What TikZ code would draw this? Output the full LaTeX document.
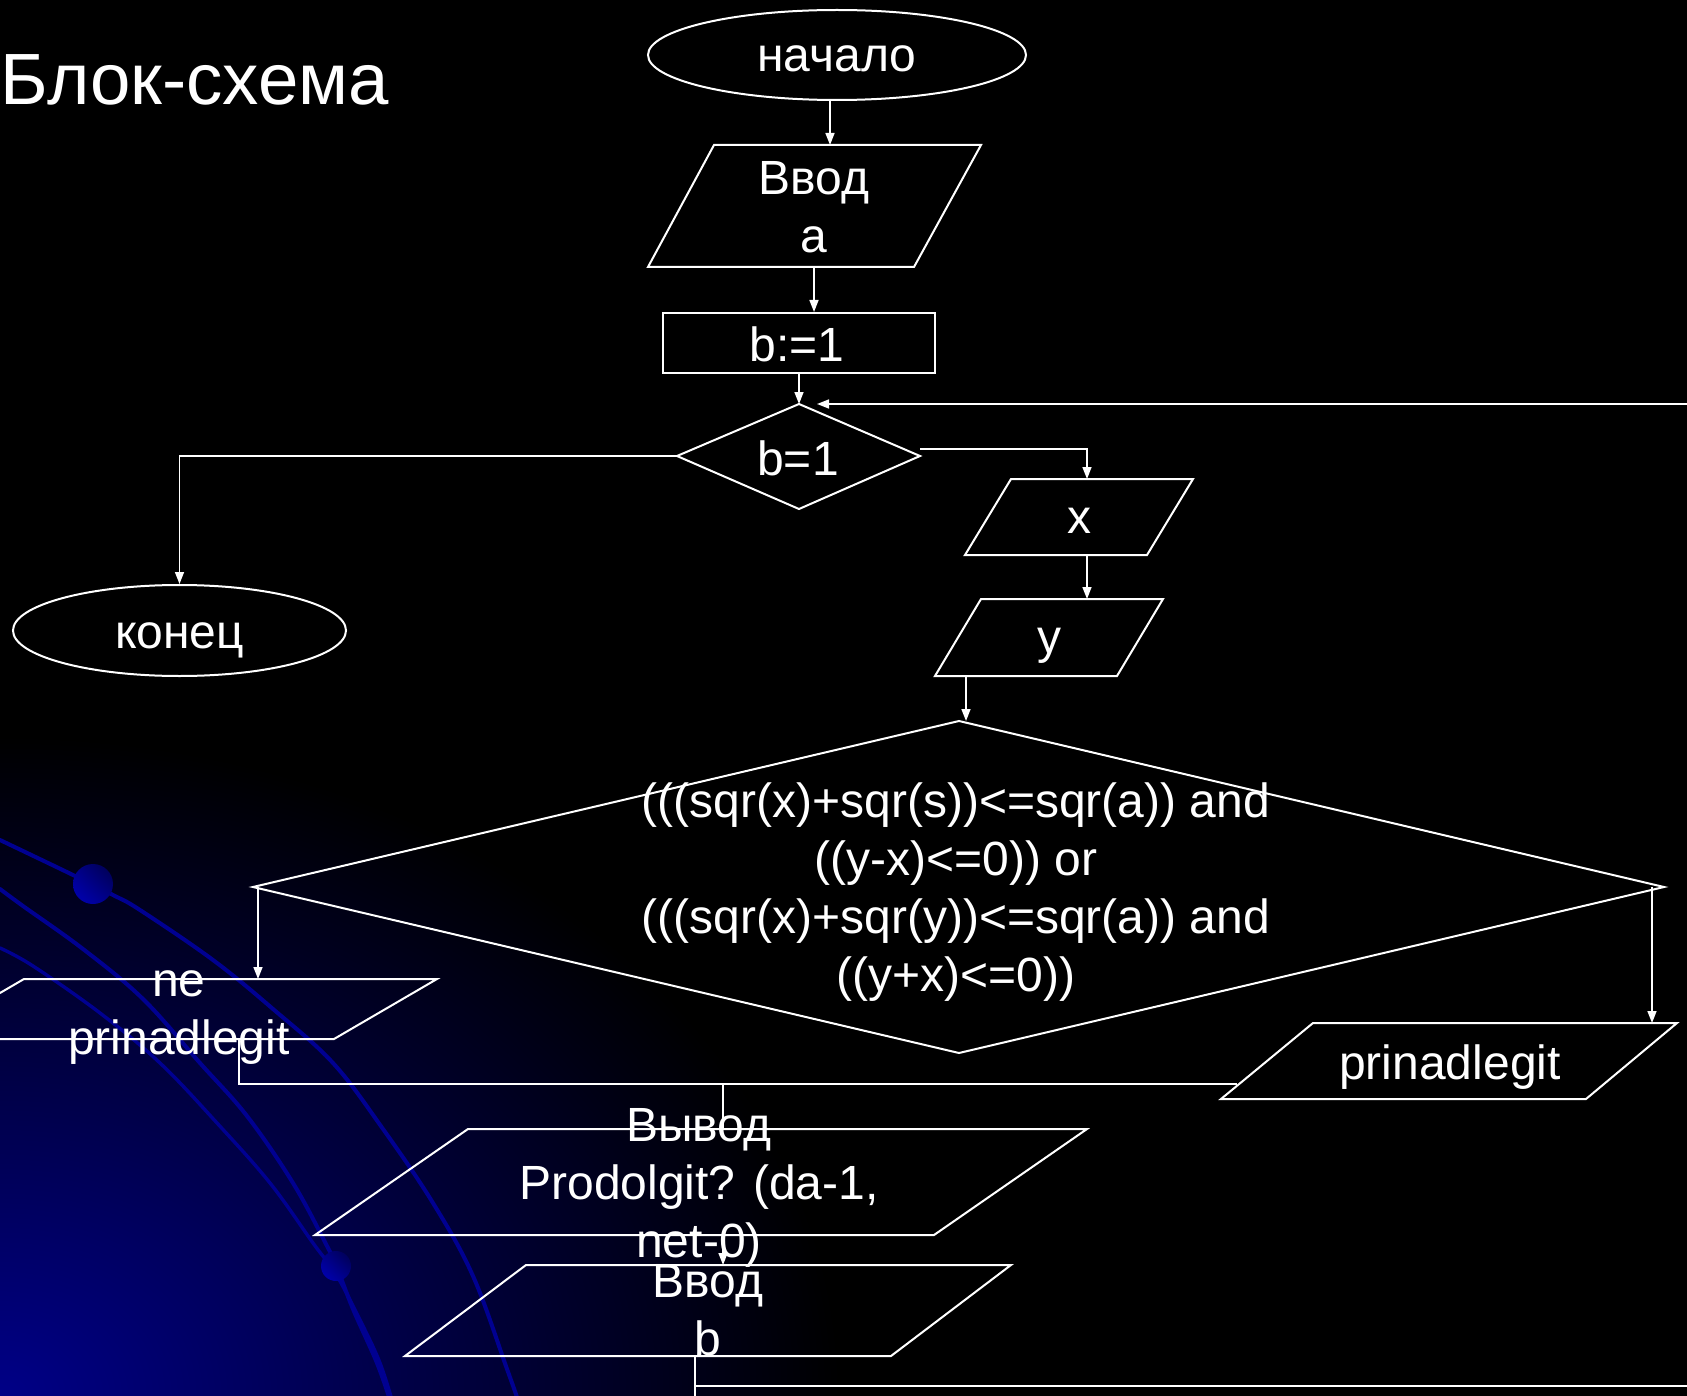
\documentclass[tikz,border=0pt]{standalone}
\usepackage{fontspec}
\setmainfont{Liberation Sans}
\usetikzlibrary{arrows.meta,shapes.geometric,calc,shadings}
\definecolor{navyline}{RGB}{0,0,145}
\definecolor{glow}{RGB}{0,0,135}
\definecolor{ballhi}{RGB}{0,0,185}
\definecolor{ballmid}{RGB}{0,0,135}
\definecolor{balllo}{RGB}{0,0,75}
\begin{document}
\begin{tikzpicture}[x=0.5pt,y=-0.5pt,
  shp/.style={draw=white, line width=1pt},
  con/.style={draw=white, line width=0.75pt},
  arr/.style={con, -{Triangle[length=6pt,width=4.5pt]}},
  txt/.style={text=white, font=\fontsize{24}{29}\selectfont, align=center, inner sep=0pt, anchor=base},
  titletxt/.style={text=white, font=\fontsize{36.3}{44}\selectfont, inner sep=0pt, anchor=base west},
  curve/.style={draw=navyline, line width=2pt, line cap=round},
  sphere/.style={upper right=balllo, lower left=ballhi, upper left=ballmid, lower right=ballmid},
]
\useasboundingbox (0,0) rectangle (1687,1396);
\begin{scope}
\clip (0,0) rectangle (1687,1396);
\fill[black] (0,0) rectangle (1687,1396);
% background glow and decorative arcs
\shade[inner color=glow, outer color=black] (0,1396) ellipse [x radius=420pt, y radius=330pt];
\draw[curve] plot[smooth, tension=0.6] coordinates {(0,840) (73,875) (113,895) (140,910) (213,960) (273,1009) (333,1063) (383,1129) (433,1203) (473,1276) (507,1369) (518,1400)};
\draw[curve] plot[smooth, tension=0.6] coordinates {(0,889) (23,906) (83,949) (143,999) (200,1063) (247,1116) (293,1183) (327,1246) (336,1265) (353,1309) (377,1363) (390,1400)};
\draw[curve, line width=1.7pt] plot[smooth, tension=0.6] coordinates {(0,948) (33,966) (100,1013) (160,1063) (217,1123) (270,1183) (313,1243) (337,1276) (363,1326) (380,1363) (392,1400)};
\shade[sphere] (93,884) circle [radius=10pt];
\shade[sphere] (336,1266) circle [radius=7.5pt];

% title
\node[titletxt] (title) at (0,105) {Блок-схема};

% shapes
\node[shp, ellipse, minimum width=189pt, minimum height=45pt, inner sep=0pt] (start) at (837,55) {};
\draw[shp] (714,145) -- (981,145) -- (914,267) -- (648,267) -- cycle;
\node[shp, rectangle, minimum width=136pt, minimum height=30pt, inner sep=0pt] (init) at (799,343) {};
\draw[shp] (799,404) coordinate (cond1-n) -- (920,456) coordinate (cond1-e) -- (799,509) -- (677,456) coordinate (cond1-w) -- cycle;
\node[shp, ellipse, minimum width=166.5pt, minimum height=45.5pt, inner sep=0pt] (end) at (179.5,630.5) {};
\draw[shp] (1011,479) -- (1193,479) -- (1147,555) -- (965,555) -- cycle;
\draw[shp] (981,599) -- (1163,599) -- (1117,676) -- (935,676) -- cycle;
\draw[shp] (959,721) coordinate (cond2-n) -- (1664,887) coordinate (cond2-e) -- (959,1053) -- (253,887) coordinate (cond2-w) -- cycle;
\draw[shp] (24,979) -- (437,979) -- (334,1039) -- (-79,1039) -- cycle;
\draw[shp] (1313,1023) -- (1677,1023) -- (1586,1099) -- (1221,1099) -- cycle;
\draw[shp] (468,1129) -- (1087,1129) -- (934,1235) -- (315,1235) -- cycle;
\draw[shp] (526,1265) -- (1011,1265) -- (891,1356) -- (405,1356) -- cycle;

% connection points
\coordinate (inp1-in) at (830,145);
\coordinate (inp1-out) at (814,267);
\coordinate (inx-in) at (1087,479);
\coordinate (inx-out) at (1087,555);
\coordinate (iny-in) at (1087,599);
\coordinate (iny-out) at (966,676);
\coordinate (no-in) at (258,979);
\coordinate (no-out) at (239,1039);
\coordinate (yes-in) at (1652,1023);
\coordinate (yes-join) at (1237,1084);
\coordinate (out-in) at (723,1129);
\coordinate (out-out) at (723,1235);
\coordinate (inb-in) at (723,1265);
\coordinate (inb-out) at (695,1356);
\coordinate (loop-a) at (695,1386);
\coordinate (loop-b) at (1720,1386);
\coordinate (loop-c) at (1720,404);
\coordinate (loop-end) at (817,404);
\coordinate (inb-down) at (695,1400);

% texts (multi-line texts anchored at the baseline of their last line)
\node[txt] (t-start) at (837,72) {начало};
\node[txt] (t-inp1) at (814,253) {Ввод\\a};
\node[txt] (t-init) at (797,361) {b:=1};
\node[txt] (t-cond1) at (798,475) {b=1};
\node[txt] (t-end) at (179.5,648) {конец};
\node[txt] (t-inx) at (1079,533) {x};
\node[txt] (t-iny) at (1049,653) {y};
\node[txt] (t-cond2) at (956,991) {(((sqr(x)+sqr(s))<=sqr(a)) and\\((y-x)<=0)) or\\(((sqr(x)+sqr(y))<=sqr(a)) and\\((y+x)<=0))};
\node[txt] (t-no) at (179,1054) {ne\\prinadlegit};
\node[txt] (t-yes) at (1450,1079) {prinadlegit};
\node[txt] (t-out) at (699,1257) {Вывод\\Prodolgit? (da-1,\\net-0)};
\node[txt] (t-inb) at (708,1355) {Ввод\\b};

% connectors
\draw[arr] (start.south -| inp1-in) -- (inp1-in);
\draw[arr] (inp1-out) -- (init.north -| inp1-out);
\draw[arr] (init.south) -- (cond1-n);
\draw[arr] (cond1-w) -| (end.north);
\draw[arr] ($(cond1-e)+(0,-7)$) -| (inx-in);
\draw[arr] (inx-out) -- (iny-in);
\draw[arr] (iny-out) -- (iny-out |- cond2-n);
\draw[arr] (cond2-w -| no-in) -- (no-in);
\draw[arr] (cond2-e -| yes-in) -- (yes-in);
\draw[con] (no-out) |- (yes-join);
\draw[con] (out-in |- yes-join) -- (out-in);
\draw[arr] (out-out) -- (inb-in);
\draw[con] (inb-out) -- (inb-down);
\draw[arr] (loop-a) -- (loop-b) -- (loop-c) -- (loop-end);
\end{scope}
\end{tikzpicture}
\end{document}
